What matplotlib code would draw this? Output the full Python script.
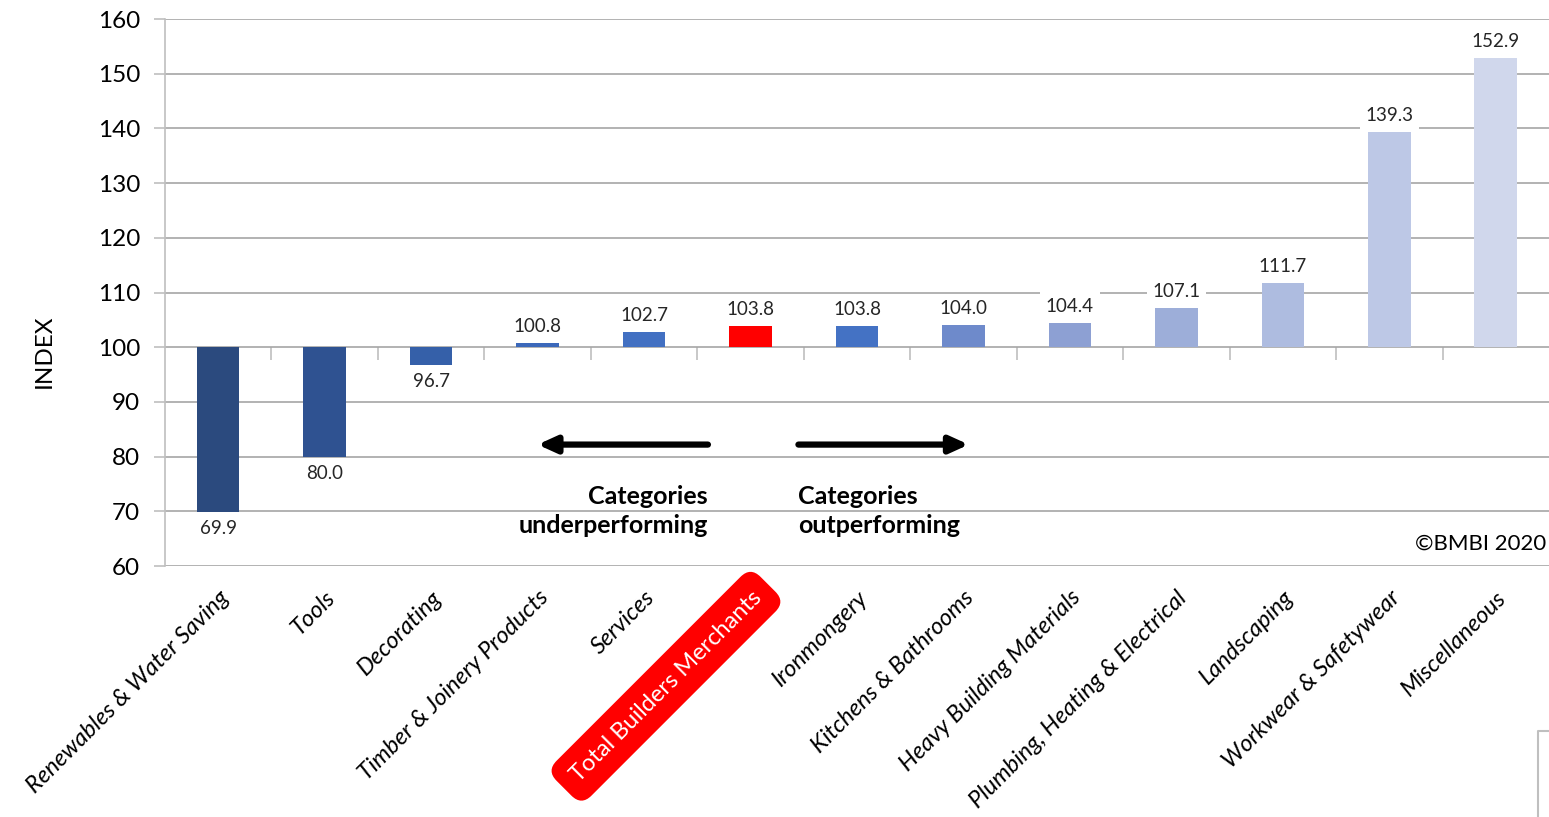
import matplotlib
matplotlib.use("Agg")
import matplotlib.pyplot as plt
from matplotlib.lines import Line2D
import numpy as np

categories = [
    "Renewables & Water Saving", "Tools", "Decorating", "Timber & Joinery Products",
    "Services", "Total Builders Merchants", "Ironmongery", "Kitchens & Bathrooms",
    "Heavy Building Materials", "Plumbing, Heating & Electrical", "Landscaping",
    "Workwear & Safetywear", "Miscellaneous",
]
index_values = [69.9, 80.0, 96.7, 100.8, 102.7, 103.8, 103.8, 104.0, 104.4, 107.1, 111.7, 139.3, 152.9]
bar_colors = [
    "#2B4A7E", "#2F5291", "#3560A9", "#3B68BA", "#4270C2", "#FF0000", "#4472C4",
    "#6E8ACB", "#8DA0D3", "#9DAED9", "#AEBCE0", "#BDC8E6", "#D0D7EC",
]
baseline = 100
total_label = "Total Builders Merchants"

plt.rcParams["font.family"] = ["Lato", "DejaVu Sans"]

fig = plt.figure(figsize=(15.49, 8.17), dpi=100)
ax = fig.add_axes([0.1065, 0.3072, 0.8935, 0.6695])

x = np.arange(len(categories))
heights = [v - baseline for v in index_values]
ax.bar(x, heights, bottom=baseline, width=0.4, color=bar_colors, zorder=2)

ax.set_xlim(-0.5, len(categories) - 0.5)
ax.set_ylim(60, 160)
ax.set_yticks(np.arange(60, 161, 10))
ax.yaxis.grid(True, color="#A6A6A6", linewidth=1.2, zorder=0)
ax.tick_params(axis="y", labelsize=17.5, length=8, color="#BFBFBF", width=1.2, pad=10)
for s in ("top", "right", "bottom"):
    ax.spines[s].set_visible(False)
ax.spines["left"].set_color("#BFBFBF")
ax.spines["left"].set_linewidth(1.2)
ax.set_ylabel("INDEX", fontsize=17.5)
ax.yaxis.set_label_coords(-0.0795, 0.393)

# category axis crosses at the 100 baseline, with ticks between categories
sec = ax.secondary_xaxis((baseline - 60) / 100)
sec.set_xticks(x[:-1] + 0.5)
sec.set_xticklabels([])
sec.tick_params(length=9, color="#BFBFBF", width=1.2, direction="out")
sec.spines["bottom"].set_visible(False)

ax.set_xticks(x)
ax.set_xticklabels(categories, rotation=45, ha="right", va="top",
                   rotation_mode="anchor", fontsize=17, style="italic")
ax.tick_params(axis="x", length=0, pad=15)
for lbl in ax.get_xticklabels():
    if lbl.get_text() == total_label:
        lbl.set_color("white")
        lbl.set_style("normal")
        lbl.set_bbox(dict(boxstyle="round,pad=0.6,rounding_size=0.6",
                          facecolor="#FF0000", edgecolor="none"))

# value labels
for xi, v in zip(x, index_values):
    off = 12 if v >= baseline else -12
    ax.annotate(f"{v:.1f}", (xi, v), xytext=(0, off), textcoords="offset points",
                ha="center", va="center", fontsize=13.5, color="#262626",
                bbox=dict(boxstyle="square,pad=0.3", facecolor="white", edgecolor="none"),
                zorder=3)

# direction arrows and captions
arrow_style = dict(arrowstyle="-|>,head_length=1.1,head_width=0.5", color="black",
                   lw=4.5, shrinkA=0, shrinkB=0)
ax.annotate("", xy=(3.0, 82.2), xytext=(4.6, 82.2), arrowprops=arrow_style)
ax.annotate("", xy=(7.05, 82.2), xytext=(5.45, 82.2), arrowprops=arrow_style)
ax.text(4.6, 70.1, "Categories\nunderperforming", ha="right", va="center",
        fontsize=18, fontweight="bold", linespacing=1.3)
ax.text(5.45, 70.1, "Categories\noutperforming", ha="left", va="center",
        fontsize=18, fontweight="bold", linespacing=1.3)

ax.text(0.998, 0.04, "\u00a9BMBI 2020", transform=ax.transAxes, ha="right",
        va="center", fontsize=16)

# edge of a neighbouring frame in the lower right corner
fig.add_artist(Line2D([1538 / 1549, 1538 / 1549, 1.0], [0.0, 1 - 731 / 817, 1 - 731 / 817],
                      transform=fig.transFigure, color="#BFBFBF", linewidth=1.5))

fig.savefig("out.png", dpi=100)
